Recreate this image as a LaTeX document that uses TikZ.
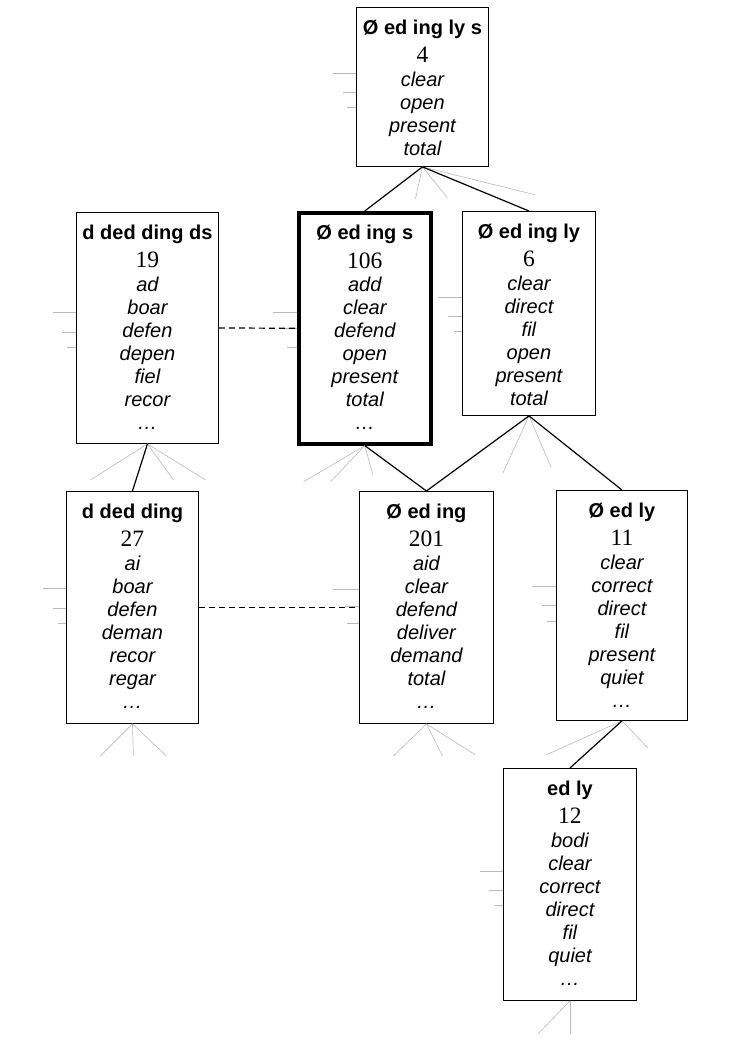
\documentclass[tikz,border=0pt]{standalone}
\usepackage{fontspec}
\setmainfont{Liberation Sans}
\newfontfamily\numfont{Liberation Serif}
\usetikzlibrary{calc}
\newcommand{\ttl}[1]{{\bfseries\fontsize{20}{23}\selectfont #1}}
\newcommand{\nmb}[1]{{\numfont\fontsize{23.5}{24}\selectfont #1}}
\newcommand{\wlist}[1]{{\fontsize{20}{23}\selectfont\begin{tabular}[t]{@{}c@{}}#1\end{tabular}}}
\newcommand{\wi}[1]{{\fontsize{20}{23}\selectfont\itshape #1}}
\tikzset{
  wbox/.style={draw, line width=0.9pt, inner sep=0pt, anchor=north west, text height=27pt},
  thickbox/.style={wbox, line width=3.6pt},
  conn/.style={line width=1.2pt, black},
  dashconn/.style={line width=1.2pt, black, dash pattern=on 6pt off 4pt},
  stub/.style={line width=0.6pt, gray!55},
}
\begin{document}
\begin{tikzpicture}[x=1pt, y=-1pt]
\useasboundingbox[fill=white] (0,0) rectangle (738,1041);

\node[wbox, minimum width=132pt, text depth=132pt] (A) at (356,7)
  {\wlist{\ttl{Ø ed ing ly s}\\[5.5pt]\nmb{4}\\[0.5pt]\wi{clear}\\\wi{open}\\\wi{present}\\\wi{total}}};
\node[wbox, minimum width=142pt, text depth=204pt] (B) at (76,212)
  {\wlist{\ttl{d ded ding ds}\\[5.5pt]\nmb{19}\\[0.5pt]\wi{ad}\\\wi{boar}\\\wi{defen}\\\wi{depen}\\\wi{fiel}\\\wi{recor}\\\wi{…}}};
\node[thickbox, minimum width=132pt, text depth=204pt] (C) at (297,211)
  {\wlist{\ttl{Ø ed ing s}\\[5.5pt]\nmb{106}\\[0.5pt]\wi{add}\\\wi{clear}\\\wi{defend}\\\wi{open}\\\wi{present}\\\wi{total}\\\wi{…}}};
\node[wbox, minimum width=133pt, text depth=177pt] (D) at (462,211)
  {\wlist{\ttl{Ø ed ing ly}\\[5.5pt]\nmb{6}\\[0.5pt]\wi{clear}\\\wi{direct}\\\wi{fil}\\\wi{open}\\\wi{present}\\\wi{total}}};
\node[wbox, minimum width=132pt, text depth=205pt] (E) at (66,491)
  {\wlist{\ttl{d ded ding}\\[5.5pt]\nmb{27}\\[0.5pt]\wi{ai}\\\wi{boar}\\\wi{defen}\\\wi{deman}\\\wi{recor}\\\wi{regar}\\\wi{…}}};
\node[wbox, minimum width=134pt, text depth=205pt] (F) at (359,491)
  {\wlist{\ttl{Ø ed ing}\\[5.5pt]\nmb{201}\\[0.5pt]\wi{aid}\\\wi{clear}\\\wi{defend}\\\wi{deliver}\\\wi{demand}\\\wi{total}\\\wi{…}}};
\node[wbox, minimum width=131pt, text depth=203pt] (G) at (556,490)
  {\wlist{\ttl{Ø ed ly}\\[5.5pt]\nmb{11}\\[0.5pt]\wi{clear}\\\wi{correct}\\\wi{direct}\\\wi{fil}\\\wi{present}\\\wi{quiet}\\\wi{…}}};
\node[wbox, minimum width=133pt, text depth=205pt] (H) at (503,768)
  {\wlist{\ttl{ed ly}\\[5.5pt]\nmb{12}\\[0.5pt]\wi{bodi}\\\wi{clear}\\\wi{correct}\\\wi{direct}\\\wi{fil}\\\wi{quiet}\\\wi{…}}};

% gray left stubs
\foreach \n/\a/\la/\b/\lb/\c/\lc in {A/66/23/85/13/100/9, B/100/23/120/14/135/9,
    C/101/24/117/14/136/10, D/86/24/105/14/120/8, E/97/23/117/13/132/8,
    F/98/26/115/14/132/12, G/96/24/115/14/131/9, H/103/23/122/14/137/9}{
  \draw[stub] (\n.north west) ++(0,\a) -- ++(-\la,0);
  \draw[stub] (\n.north west) ++(0,\b) -- ++(-\lb,0);
  \draw[stub] (\n.north west) ++(0,\c) -- ++(-\lc,0);
}

% gray fans below boxes
\draw[stub] (A.south) -- ++(-7,32);
\draw[stub] (A.south) -- ++(25,31);
\draw[stub] (A.south) -- ++(113,28);
\draw[stub] (B.south) -- ++(-57,36);
\draw[stub] (B.south) -- ++(26,36);
\draw[stub] (B.south) -- ++(58,36);
\draw[stub] (C.south) -- ++(-61,36);
\draw[stub] (C.south) -- ++(-34,36);
\draw[stub] (C.south) -- ++(8,29);
\draw[stub] (D.south) -- ++(-26,57);
\draw[stub] (D.south) -- ++(22,51);
\draw[stub] (E.south) -- ++(-32,32);
\draw[stub] (E.south) -- ++(1,32);
\draw[stub] (E.south) -- ++(34,32);
\draw[stub] (F.south) -- ++(-33,32);
\draw[stub] (F.south) -- ++(16,32);
\draw[stub] (F.south) -- ++(49,31);
\draw[stub] (G.south) -- ++(-76,34);
\draw[stub] (G.south) -- ++(26,27);
\draw[stub] (H.south) -- ++(-32,33);
\draw[stub] (H.south) -- ++(0,33);

% connectors
\draw[conn] (A.south) -- (C.north);
\draw[conn] (A.south) -- (D.north);
\draw[conn] (B.south) -- (E.north);
\draw[conn] (C.south) -- (F.north);
\draw[conn] (D.south) -- (F.north);
\draw[conn] (D.south) -- (G.north);
\draw[conn] (G.south) -- (H.north);
\draw[dashconn] (B.east) -- (C.west);
\draw[dashconn] (E.east) -- (F.west);
\end{tikzpicture}
\end{document}
